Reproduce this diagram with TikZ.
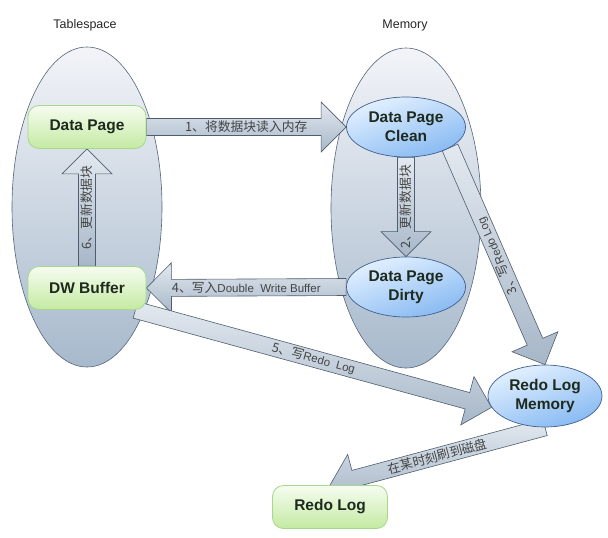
\documentclass[tikz,border=0pt]{standalone}
\usepackage{fontspec}
\setmainfont{Liberation Sans}
\newfontfamily\cjk{Noto Sans CJK SC}
\newcommand{\zh}{\cjk\fontsize{12.8}{14}\selectfont}
\usetikzlibrary{calc,shapes.geometric}

\definecolor{areatop}{HTML}{F2F4F8}
\definecolor{areabot}{HTML}{A7B9CC}
\definecolor{arealine}{HTML}{56657A}
\definecolor{greentop}{HTML}{F6FCF0}
\definecolor{greenbot}{HTML}{C4EAA2}
\definecolor{greenline}{HTML}{A6D88C}
\definecolor{bluetop}{HTML}{E4F1FF}
\definecolor{bluebot}{HTML}{86B9F2}
\definecolor{blueline}{HTML}{3F5F8E}
\definecolor{arrtop}{HTML}{E3E9F0}
\definecolor{arrbot}{HTML}{A7B7C8}
\definecolor{arrline}{HTML}{4F5E6E}
\definecolor{labeltext}{HTML}{444444}
\definecolor{nodetext}{HTML}{1E2A1E}

\pgfdeclarelayer{back}
\pgfdeclarelayer{mid}
\pgfsetlayers{back,mid,main}

\tikzset{
  storearea/.style={ellipse, draw=arealine, line width=0.6pt, top color=areatop, bottom color=areabot, minimum width=150pt, minimum height=320pt},
  heading/.style={font=\fontsize{12.5}{14}\selectfont, text=black!85},
  greenbox/.style={rectangle, rounded corners=11pt, draw=greenline, line width=0.8pt, top color=greentop, bottom color=greenbot, minimum width=118pt, minimum height=43pt, font=\fontsize{15.5}{19}\selectfont\bfseries, text=nodetext},
  blueball/.style={ellipse, draw=blueline, line width=0.7pt, top color=bluetop, bottom color=bluebot, shading angle=20, inner sep=0pt, align=center, font=\fontsize{15.5}{19}\selectfont\bfseries, text=nodetext},
  flowarr/.style={draw=arrline, line width=0.6pt, top color=arrtop, bottom color=arrbot},
  flowlabel/.style={font=\fontsize{11.5}{13}\selectfont, text=labeltext, inner sep=0pt}
}

% block arrow: from, to, label angle, label
\newcommand{\flowarrow}[4]{%
  \begin{pgfonlayer}{mid}
  \path[flowarr] (#2) -- ($(#2)!35.36pt!45:(#1)$) -- ($(#2)!26.41pt!18.78:(#1)$)
    -- ($(#1)!8.5pt!-90:(#2)$) -- ($(#1)!8.5pt!90:(#2)$)
    -- ($(#2)!26.41pt!-18.78:(#1)$) -- ($(#2)!35.36pt!-45:(#1)$) -- cycle;
  \path (#1) -- (#2) node [midway, rotate=#3, flowlabel] {#4};
  \end{pgfonlayer}%
}

\begin{document}
\begin{tikzpicture}[x=1pt, y=-1pt]

\useasboundingbox (0,0) rectangle (608,538);
\begin{pgfonlayer}{back}
\fill [white] (0,0) rectangle (608,538);
\node [storearea] (tbs) at (87, 207) {};
\node [storearea] (mem) at (406, 208) {};
\end{pgfonlayer}

\node [heading] (tbstitle) at (85, 25) {Tablespace};
\node [heading] (memtitle) at (405, 25) {Memory};

\node [greenbox] (dp) at (87, 127) {Data Page};
\node [greenbox] (dw) at (87, 288) {DW Buffer};
\node [greenbox, minimum width=115pt] (rl) at (330, 507) {Redo Log};
\node [blueball, minimum width=119pt, minimum height=60pt] (dpc) at (406, 127) {Data Page\\Clean};
\node [blueball, minimum width=119pt, minimum height=60pt] (dpd) at (406, 287) {Data Page\\Dirty};
\node [blueball, minimum width=114pt, minimum height=62pt] (rlm) at (545, 396) {Redo Log\\Memory};

\coordinate (dwtail) at ([xshift=-11pt]dw.south east);

\flowarrow{dp.east}{dpc.west}{0}{\zh 1、将数据块读入内存}
\flowarrow{dpc.south}{dpd.north}{90}{\zh 2、更新数据块}
\flowarrow{dpc.-25}{rlm.north}{114}{{\zh 3、写}Redo Log}
\flowarrow{dpd.west}{dw.east}{0}{{\zh 4、写入}Double\ \ Write Buffer}
\flowarrow{dwtail}{rlm.192}{-15}{{\zh 5、写}Redo\ \ Log}
\flowarrow{dw.north}{dp.south}{90}{\zh 6、更新数据块}
\flowarrow{rlm.south}{rl.north}{15}{\zh 在某时刻刷到磁盘}

\end{tikzpicture}
\end{document}
